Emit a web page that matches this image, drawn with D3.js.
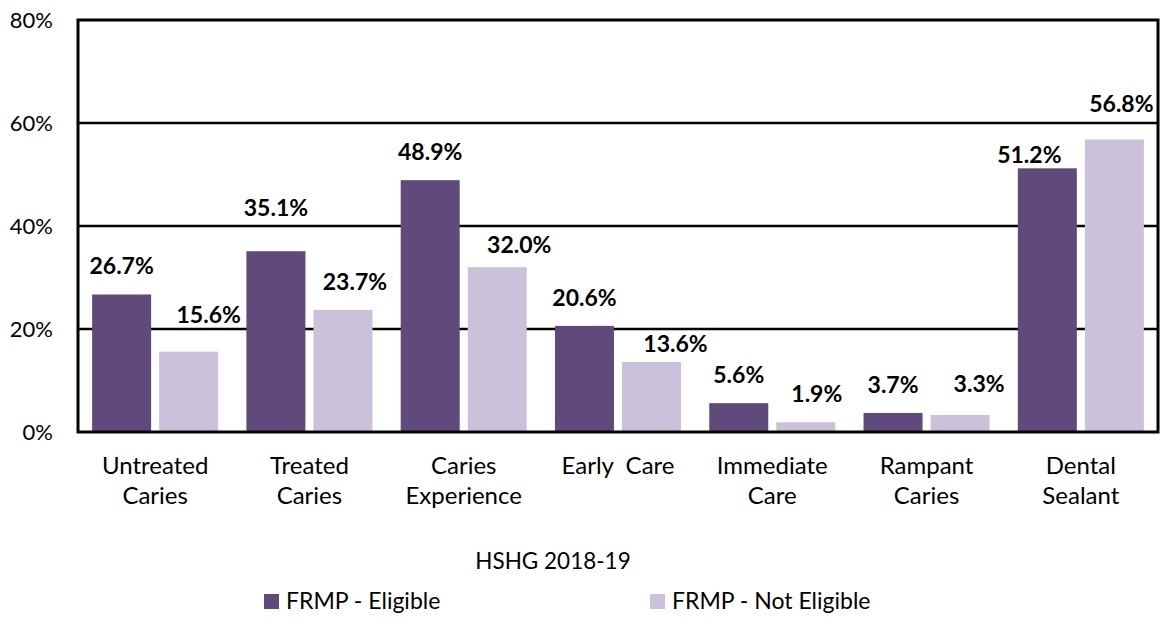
<!DOCTYPE html>
<html>
<head>
<meta charset="utf-8">
<script src="https://cdn.jsdelivr.net/npm/d3@7"></script>
<style>
  body { margin: 0; background: #fff; }
  svg { display: block; font-family: Lato, 'Liberation Sans', sans-serif; }
</style>
</head>
<body>
<div class="viz"></div>
<script>
// categories, split on the lines used under the axis
const categories = ['Untreated Caries', 'Treated Caries', 'Caries Experience', 'Early  Care', 'Immediate Care', 'Rampant Caries', 'Dental Sealant'];
const categoryLines = [['Untreated', 'Caries'], ['Treated', 'Caries'], ['Caries', 'Experience'], ['Early  Care'], ['Immediate', 'Care'], ['Rampant', 'Caries'], ['Dental', 'Sealant']];
const seriesNames = ['FRMP - Eligible', 'FRMP - Not Eligible'];
const eligible = [26.7, 35.1, 48.9, 20.6, 5.6, 3.7, 51.2];
const notEligible = [15.6, 23.7, 32.0, 13.6, 1.9, 3.3, 56.8];
const yTicks = [0, 20, 40, 60, 80];
const title = 'HSHG 2018-19';

// the labels in the original were dragged by hand, these are the nudges in px
const labelShift = [
  [[0, 0], [20, -9]],
  [[0, -15], [12, 0]],
  [[0, 0], [22, 6]],
  [[0, 0], [24, 10]],
  [[0, 0], [11, 0]],
  [[0, 0], [19, -3]],
  [[-18, 15], [7, -7]],
];

const colors = ['#604a7b', '#ccc1da'];
const width = 1160;
const height = 619;
const plot = { left: 78, right: 1158, top: 20, bottom: 432 };

const svg = d3.select('.viz')
  .append('svg')
  .attr('width', width)
  .attr('height', height);

const x0 = d3.scaleBand()
  .domain(categories)
  .range([plot.left, plot.right])
  .paddingInner(0.183)
  .paddingOuter(0.0915);

const x1 = d3.scaleBand()
  .domain(seriesNames)
  .range([0, x0.bandwidth()])
  .paddingInner(0.12);

const y = d3.scaleLinear()
  .domain([0, 80])
  .range([plot.bottom, plot.top]);

// tick labels via an axis, grid lines drawn separately
const yAxis = d3.axisLeft(y)
  .tickValues(yTicks)
  .tickFormat(d => d + '%')
  .tickSize(0)
  .tickPadding(25);

const gy = svg.append('g')
  .attr('class', 'axis y-axis')
  .attr('transform', `translate(${plot.left} 0)`)
  .call(yAxis);
gy.select('.domain').remove();
gy.selectAll('text')
  .attr('font-size', 22)
  .attr('font-family', 'Lato, sans-serif')
  .attr('fill', '#000')
  .attr('dy', '0.36em');

svg.append('g')
  .selectAll('line')
  .data(yTicks.filter(d => d > 0 && d < 80))
  .join('line')
  .attr('x1', plot.left)
  .attr('x2', plot.right)
  .attr('y1', d => y(d))
  .attr('y2', d => y(d))
  .attr('stroke', '#000')
  .attr('stroke-width', 2.5);

// bars
const rows = categories.map((c, i) => ({
  category: c,
  index: i,
  values: [eligible[i], notEligible[i]],
}));

const groups = svg.append('g')
  .selectAll('g.cat')
  .data(rows)
  .join('g')
  .attr('class', 'cat')
  .attr('transform', d => `translate(${x0(d.category)} 0)`);

groups.selectAll('rect')
  .data(d => d.values.map((v, s) => ({ v, s, i: d.index })))
  .join('rect')
  .attr('x', d => x1(seriesNames[d.s]))
  .attr('y', d => y(d.v))
  .attr('width', x1.bandwidth())
  .attr('height', d => y(0) - y(d.v))
  .attr('fill', d => colors[d.s]);

groups.selectAll('text.value')
  .data(d => d.values.map((v, s) => ({ v, s, i: d.index })))
  .join('text')
  .attr('class', 'value')
  .attr('x', d => x1(seriesNames[d.s]) + x1.bandwidth() / 2 + labelShift[d.i][d.s][0])
  .attr('y', d => y(d.v) - 20 + labelShift[d.i][d.s][1])
  .attr('text-anchor', 'middle')
  .attr('font-size', 23)
  .attr('font-weight', 'bold')
  .attr('fill', '#000')
  .text(d => d.v.toFixed(1) + '%');

// plot frame on top
svg.append('rect')
  .attr('x', plot.left)
  .attr('y', plot.top)
  .attr('width', plot.right - plot.left)
  .attr('height', plot.bottom - plot.top)
  .attr('fill', 'none')
  .attr('stroke', '#000')
  .attr('stroke-width', 3);

// category labels
const catLabels = svg.append('g')
  .selectAll('text')
  .data(categories)
  .join('text')
  .attr('x', d => x0(d) + x0.bandwidth() / 2)
  .attr('y', 474)
  .attr('text-anchor', 'middle')
  .attr('font-size', 24)
  .attr('fill', '#000')
  .style('white-space', 'pre');

catLabels.selectAll('tspan')
  .data((d, i) => categoryLines[i])
  .join('tspan')
  .attr('x', function () { return d3.select(this.parentNode).attr('x'); })
  .attr('dy', (d, i) => (i === 0 ? 0 : 30))
  .text(d => d);

// title under the axis
svg.append('text')
  .attr('x', 553)
  .attr('y', 569)
  .attr('text-anchor', 'middle')
  .attr('font-size', 22.5)
  .attr('fill', '#000')
  .text(title);

// legend
const legendX = [264, 650];
const legend = svg.append('g')
  .selectAll('g')
  .data(seriesNames)
  .join('g')
  .attr('transform', (d, i) => `translate(${legendX[i]} 594)`);

legend.append('rect')
  .attr('width', 15)
  .attr('height', 15)
  .attr('fill', (d, i) => colors[i]);

legend.append('text')
  .attr('x', 22)
  .attr('y', 15)
  .attr('font-size', 23)
  .attr('fill', '#000')
  .text(d => d);
</script>
</body>
</html>
